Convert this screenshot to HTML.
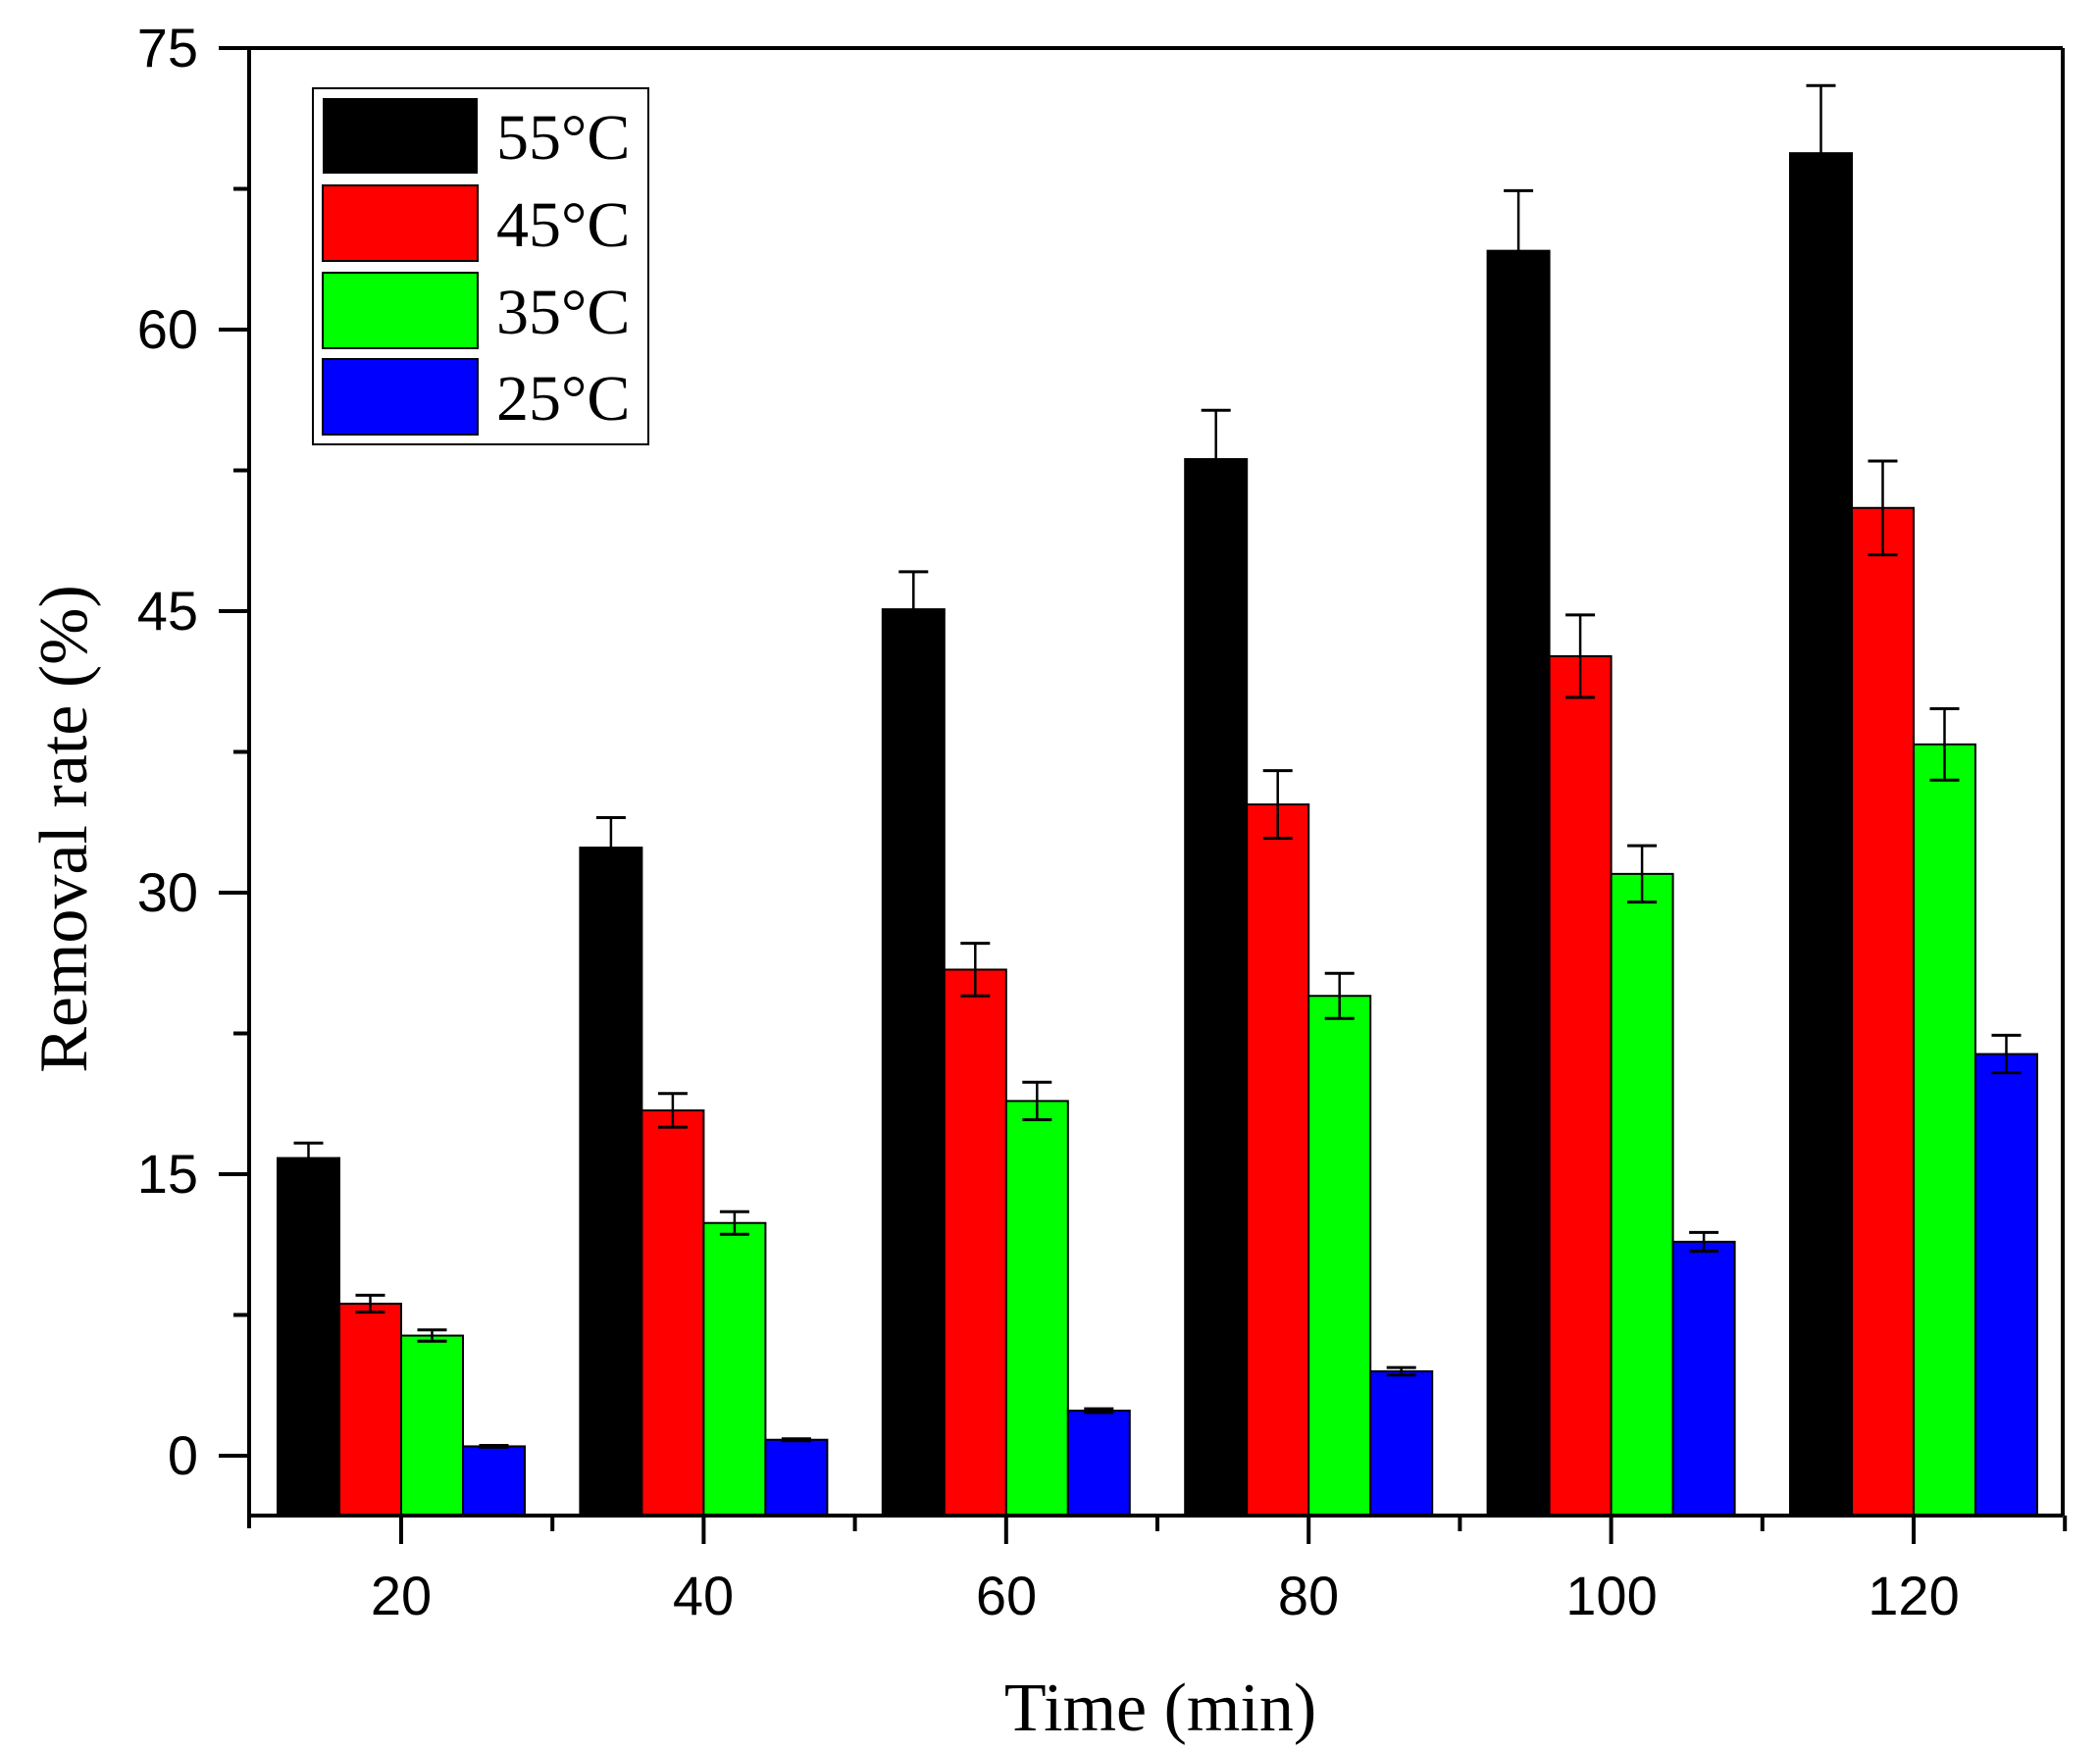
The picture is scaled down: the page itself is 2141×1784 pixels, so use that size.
<!DOCTYPE html>
<html><head><meta charset="utf-8"><style>
html,body{margin:0;padding:0;background:#fff;}
svg{display:block;}
</style></head><body>
<svg id="s" width="2141" height="1784" xmlns="http://www.w3.org/2000/svg">
<rect width="2141" height="1784" fill="#fff"/>
<g id="bars"></g>
<g stroke="#000" stroke-width="4" fill="none">
<line x1="254" y1="49" x2="254" y2="1558"/>
<line x1="2103" y1="49" x2="2103" y2="1545"/>
<line x1="223" y1="49" x2="2103" y2="49"/>
<line x1="254" y1="1545" x2="2103" y2="1545"/>
</g>
<g id="ticks" stroke="#000" stroke-width="4"></g>
<g font-family="Liberation Sans, Arial, sans-serif" font-size="56" fill="#000" text-anchor="end">
<text x="202" y="68">75</text>
<text x="202" y="355">60</text>
<text x="202" y="642">45</text>
<text x="202" y="929">30</text>
<text x="202" y="1216">15</text>
<text x="202" y="1503">0</text>
</g>
<g font-family="Liberation Sans, Arial, sans-serif" font-size="56" fill="#000" text-anchor="middle">
<text x="409" y="1646">20</text>
<text x="717" y="1646">40</text>
<text x="1026" y="1646">60</text>
<text x="1334" y="1646">80</text>
<text x="1643" y="1646">100</text>
<text x="1951" y="1646">120</text>
</g>
<text x="1183" y="1764" font-family="Liberation Serif, serif" font-size="70" text-anchor="middle">Time (min)</text>
<text transform="translate(88,845) rotate(-90)" font-family="Liberation Serif, serif" font-size="70" text-anchor="middle">Removal rate (%)</text>
<rect x="319" y="90" width="342" height="363" fill="#fff" stroke="#000" stroke-width="2"/>
<rect x="329" y="100" width="158" height="77" fill="#000"/>
<rect x="329" y="189" width="158" height="77" fill="#f00" stroke="#000" stroke-width="2"/>
<rect x="329" y="278" width="158" height="77" fill="#0f0" stroke="#000" stroke-width="2"/>
<rect x="329" y="366" width="158" height="77" fill="#00f" stroke="#000" stroke-width="2"/>
<g font-family="Liberation Serif, serif" font-size="66" fill="#000">
<text x="506" y="162">55°C</text>
<text x="506" y="251">45°C</text>
<text x="506" y="340">35°C</text>
<text x="506" y="428">25°C</text>
</g>
</svg>
<script>
var ns="http://www.w3.org/2000/svg";
function el(p,t,a){var e=document.createElementNS(ns,t);for(var k in a)e.setAttribute(k,a[k]);p.appendChild(e);return e;}
var Y=function(v){return 1484-v*19.133;};
var data=[
[[15.86,0.8],[8.1,0.45],[6.4,0.3],[0.5,0.05]],
[[32.4,1.6],[18.4,0.9],[12.4,0.6],[0.85,0.05]],
[[45.1,2.0],[25.9,1.4],[18.9,1.0],[2.4,0.1]],
[[53.1,2.6],[34.7,1.8],[24.5,1.2],[4.5,0.2]],
[[64.2,3.2],[42.6,2.2],[31.0,1.5],[11.4,0.5]],
[[69.4,3.6],[50.5,2.5],[37.9,1.9],[21.4,1.0]]];
var cols=["#000","#f00","#0f0","#00f"];
var b=document.getElementById("bars"),tk=document.getElementById("ticks");
for(var g=0;g<6;g++){var c=409+g*308.4;
for(var i=0;i<4;i++){var x=c-126+i*63,v=data[g][i][0],e=data[g][i][1];
el(b,"rect",{x:x,y:Y(v),width:63,height:1545-Y(v),fill:cols[i],stroke:"#000","stroke-width":2});
var cx=x+31.5;
el(b,"line",{x1:cx,y1:Y(v-e),x2:cx,y2:Y(v+e),stroke:"#000","stroke-width":2.5});
el(b,"line",{x1:cx-15,y1:Y(v+e),x2:cx+15,y2:Y(v+e),stroke:"#000","stroke-width":3});
el(b,"line",{x1:cx-15,y1:Y(v-e),x2:cx+15,y2:Y(v-e),stroke:"#000","stroke-width":3});
}
el(tk,"line",{x1:c,y1:1545,x2:c,y2:1574});
el(tk,"line",{x1:c+154.2,y1:1545,x2:c+154.2,y2:1561});
}
for(var v=0;v<=75;v+=7.5){var y=Y(v);var major=(v%15===0);
el(tk,"line",{x1:major?223:238,y1:y,x2:254,y2:y});}
</script>
</body></html>
